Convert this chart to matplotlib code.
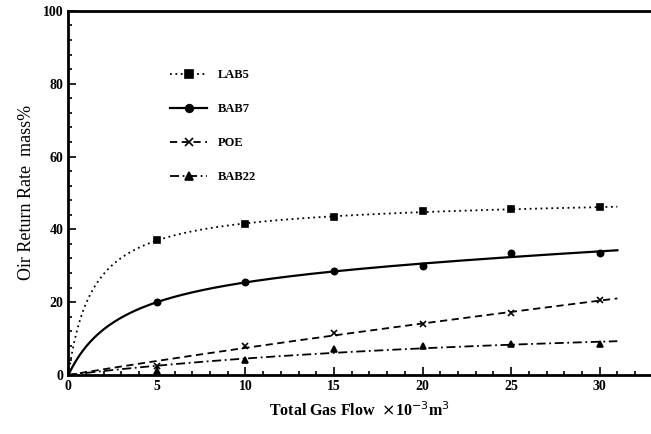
import numpy as np
import matplotlib
matplotlib.use("Agg")
import matplotlib.pyplot as plt
from matplotlib.ticker import MultipleLocator

# Data
gas_flow = [5, 10, 15, 20, 25, 30]
lab5 = [37.0, 41.5, 43.5, 45.0, 45.5, 46.0]
bab7 = [20.0, 25.5, 28.5, 29.8, 33.5, 33.5]
poe = [2.5, 8.0, 11.5, 14.0, 17.0, 20.5]
bab22 = [1.0, 4.0, 7.0, 8.0, 8.5, 8.5]
series_names = ["LAB5", "BAB7", "POE", "BAB22"]

plt.rcParams['font.family'] = ['Liberation Serif', 'DejaVu Serif']

fig = plt.figure(figsize=(6.51, 4.34), dpi=100)
ax = fig.add_axes([0.105, 0.136, 0.895, 0.839])


def fit_curve(x, y):
    """Least-squares fit y = a*x/(b+x) + c*x through origin."""
    x = np.asarray(x, float)
    y = np.asarray(y, float)
    best = None
    for b in np.linspace(0.3, 40, 400):
        A = np.column_stack([x / (b + x), x])
        coef, res, *_ = np.linalg.lstsq(A, y, rcond=None)
        err = np.sum((A @ coef - y) ** 2)
        if best is None or err < best[0]:
            best = (err, b, coef)
    _, b, (a, c) = best
    xs = np.linspace(0, 31, 300)
    return xs, a * xs / (b + xs) + c * xs


styles = [
    dict(ls=(0, (1, 2)), marker='s'),
    dict(ls='-', marker='o'),
    dict(ls=(0, (4, 2.5)), marker='x'),
    dict(ls=(0, (5, 2, 1, 2)), marker='^'),
]

for name, vals, st in zip(series_names, [lab5, bab7, poe, bab22], styles):
    xs, ys = fit_curve(gas_flow, vals)
    lw = 1.6 if st['ls'] == '-' else 1.3
    ax.plot(xs, ys, color='black', ls=st['ls'], lw=lw)
    ax.plot(gas_flow, vals, ls='none', marker=st['marker'], color='black',
            ms=4.5, mew=1.2)
    ax.plot([], [], color='black', ls=st['ls'], lw=lw, marker=st['marker'],
            ms=5.5, mew=1.2, label=name)

ax.set_xlim(0, 32.9)
ax.set_ylim(0, 100)
ax.xaxis.set_major_locator(MultipleLocator(5))
ax.xaxis.set_minor_locator(MultipleLocator(1))
ax.yaxis.set_major_locator(MultipleLocator(20))
ax.yaxis.set_minor_locator(MultipleLocator(4))
ax.tick_params(which='both', direction='in', width=1.2, labelsize=10)
ax.tick_params(which='major', length=6)
ax.tick_params(which='minor', length=3)
for lab in ax.get_xticklabels() + ax.get_yticklabels():
    lab.set_fontweight('bold')
ax.spines['right'].set_visible(False)
for s in ['left', 'bottom', 'top']:
    ax.spines[s].set_linewidth(2)

ax.set_xlabel(r"Total Gas Flow  $\times$10$^{-3}$m$^{3}$", fontsize=11.5,
              fontweight='bold', labelpad=6)
ax.set_ylabel("Oir Return Rate  mass%", fontsize=13, labelpad=6)

leg = ax.legend(loc='upper left', bbox_to_anchor=(0.155, 0.87), frameon=False,
                handlelength=3.0, labelspacing=1.75,
                prop={'weight': 'bold', 'size': 9})

fig.savefig("out.png", dpi=100)
